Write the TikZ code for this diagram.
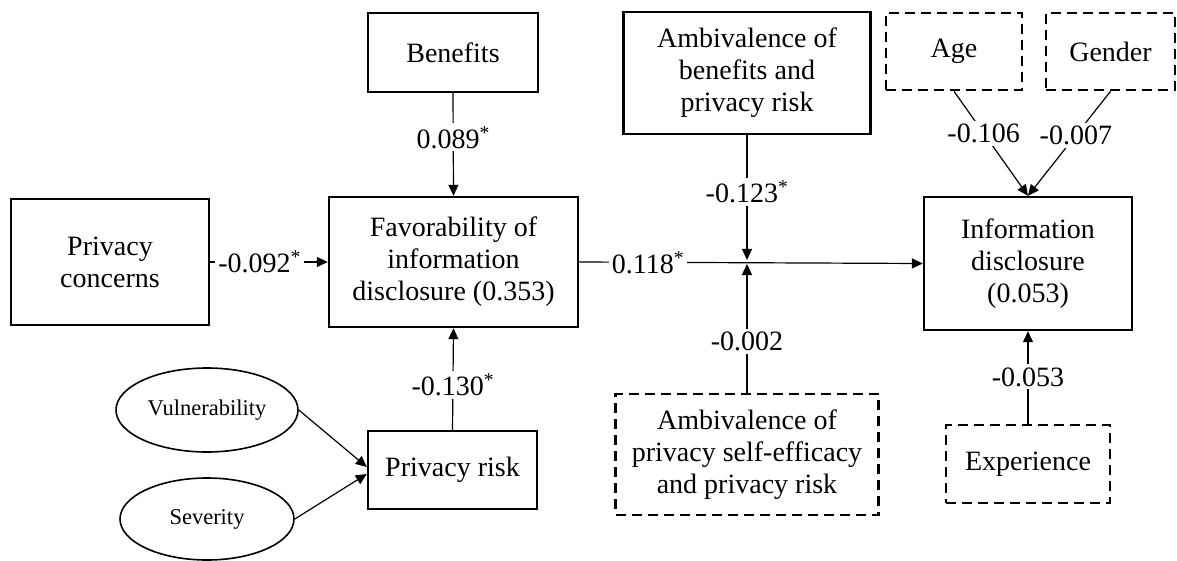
\documentclass[tikz,border=0pt]{standalone}
\usepackage{fontspec}
\setmainfont{Liberation Serif}
\usetikzlibrary{arrows.meta,shapes.geometric,calc}

\tikzset{
  every node/.style={font=\fontsize{28}{32}\selectfont},
  box/.style={draw, line width=2.4pt, inner sep=0pt, align=center},
  ctrl/.style={box, line width=2.7pt, dash pattern=on 10pt off 6pt},
  latent/.style={draw, ellipse, line width=1.6pt, inner sep=0pt,
                 font=\fontsize{22.5}{26}\selectfont},
  path/.style={line width=1.2pt, -{Triangle[length=11pt,width=10pt]}},
  coef/.style={fill=white, inner sep=3pt}
}

\begin{document}
\begin{tikzpicture}[x=1pt, y=-1pt]
\useasboundingbox (0,0) rectangle (1177,561);

% constructs
\node[box, minimum width=170pt, minimum height=79pt] (ben) at (453,52.5) {Benefits};
\node[box, minimum width=198pt, minimum height=126pt] (conc) at (110,262) {Privacy\\concerns};
\node[box, minimum width=249pt, minimum height=130pt] (fav) at (453.5,262)
  {Favorability of\\information\\disclosure (0.353)};
\node[box, minimum width=247pt, minimum height=122pt] (ambb) at (747,73)
  {Ambivalence of\\benefits and\\privacy risk};
\node[ctrl, minimum width=136pt, minimum height=77pt] (age) at (954,51.5) {Age};
\node[ctrl, minimum width=129pt, minimum height=77pt] (gen) at (1110.5,51.5) {Gender};
\node[box, minimum width=208pt, minimum height=133pt] (info) at (1028,263.5)
  {Information\\disclosure\\(0.053)};
\node[ctrl, minimum width=164pt, minimum height=78pt] (exp) at (1028,464) {Experience};
\node[ctrl, minimum width=263pt, minimum height=121pt] (ambp) at (747,454.5)
  {Ambivalence of\\privacy self-efficacy\\and privacy risk};
\node[box, minimum width=169pt, minimum height=78pt] (risk) at (452.5,470) {Privacy risk};
\node[latent, minimum width=182pt, minimum height=84pt] (vul) at (207,410) {Vulnerability};
\node[latent, minimum width=174pt, minimum height=82pt] (sev) at (207,519) {Severity};

% moderation point on the main path
\coordinate (mod) at (747,262);

% paths
\draw[path] (ben.south) -- node[coef, pos=0.43] {0.089\textsuperscript{*}} (fav.north);
\draw[path] (conc.east) -- node[coef, pos=0.42] {-0.092\textsuperscript{*}} (fav.west);
\draw[path] (risk.north) -- node[coef, pos=0.44] {-0.130\textsuperscript{*}} (fav.south);
\draw[path] (fav.east) -- node[coef, pos=0.2] {0.118\textsuperscript{*}} (info.west);
\draw[path, shorten >=2pt] (ambb.south) -- node[coef, pos=0.45] {-0.123\textsuperscript{*}} (mod);
\draw[path, shorten >=2pt] (ambp.north) -- node[coef, pos=0.39] {-0.002} (mod);
\draw[path] (age.south) -- node[coef, pos=0.4] {-0.106} (info.north);
\draw[path] (gen.south) -- node[coef, pos=0.42] {-0.007} (info.north);
\draw[path] (exp.north) -- node[coef, pos=0.505] {-0.053} (info.south);
\draw[path] (vul.east) -- ($(risk.west)+(0,-3)$);
\draw[path] (sev.east) -- ($(risk.west)+(0,4)$);
\end{tikzpicture}
\end{document}
